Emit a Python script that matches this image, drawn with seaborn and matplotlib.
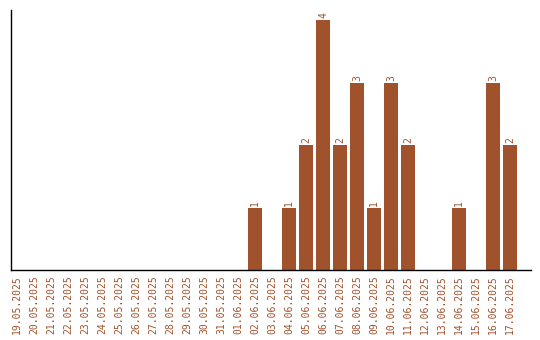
import matplotlib
matplotlib.use("Agg")
import matplotlib.pyplot as plt
import seaborn as sns
import pandas as pd

dates = ["19.05.2025", "20.05.2025", "21.05.2025", "22.05.2025", "23.05.2025",
         "24.05.2025", "25.05.2025", "26.05.2025", "27.05.2025", "28.05.2025",
         "29.05.2025", "30.05.2025", "31.05.2025", "01.06.2025", "02.06.2025",
         "03.06.2025", "04.06.2025", "05.06.2025", "06.06.2025", "07.06.2025",
         "08.06.2025", "09.06.2025", "10.06.2025", "11.06.2025", "12.06.2025",
         "13.06.2025", "14.06.2025", "15.06.2025", "16.06.2025", "17.06.2025"]
counts = [0, 0, 0, 0, 0, 0, 0, 0, 0, 0, 0, 0, 0, 0, 1,
          0, 1, 2, 4, 2, 3, 1, 3, 2, 0, 0, 1, 0, 3, 2]

color = "#A0522D"
sns.set_style("white")
plt.rcParams["font.family"] = ["DejaVu Sans Mono"]

df = pd.DataFrame({"date": dates, "count": counts})
fig = plt.figure(figsize=(5.4, 3.4), dpi=100)
ax = fig.add_axes([11/540, 70/340, 519.7/540, 260/340])
sns.barplot(data=df, x="date", y="count", color=color, saturation=1,
            width=0.82, linewidth=0, ax=ax)
for i, v in enumerate(counts):
    if v > 0:
        ax.text(i, v + 0.03, str(v), rotation=90, ha="center", va="bottom",
                fontsize=7, color=color)
ax.set_xlim(-0.35, 30.2)
ax.set_ylim(0, 4.16)
ax.set_yticks([])
ax.set_xlabel("")
ax.set_ylabel("")
ax.tick_params(axis="x", length=0, pad=4, labelsize=7, labelcolor=color)
plt.setp(ax.get_xticklabels(), rotation=90)
for s in ["top", "right"]:
    ax.spines[s].set_visible(False)
for s in ["left", "bottom"]:
    ax.spines[s].set_color("black")
    ax.spines[s].set_linewidth(1.0)
fig.savefig("out.png", dpi=100)
